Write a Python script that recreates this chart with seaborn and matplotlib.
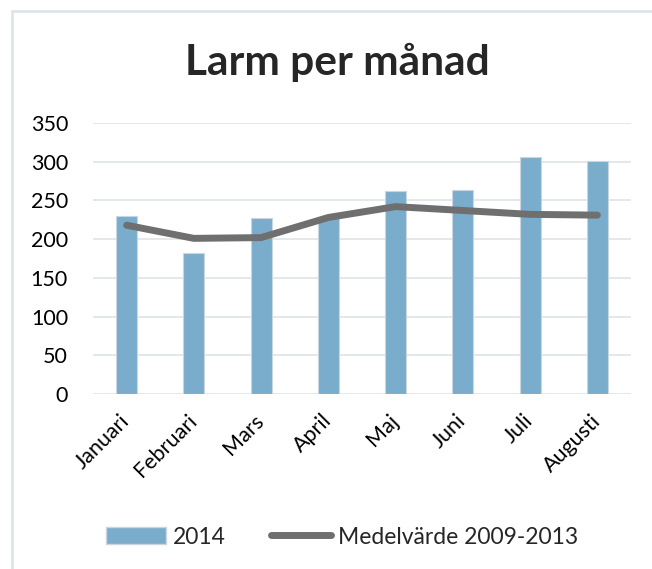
import numpy as np
import pandas as pd
import seaborn as sns
import matplotlib.pyplot as plt
from matplotlib.patches import Rectangle, Patch
from matplotlib.lines import Line2D

months = ['Januari', 'Februari', 'Mars', 'April', 'Maj', 'Juni', 'Juli', 'Augusti']
alarms_2014 = [230, 182, 227, 229, 262, 264, 306, 301]
mean_2009_2013 = [218, 201, 202, 228, 242, 237, 232, 231]

bar_col = '#7AADCB'
line_col = '#706F6F'

sns.set_theme(style='white')
plt.rcParams['font.family'] = ['Lato', 'DejaVu Sans']

df = pd.DataFrame({'month': months, 'y2014': alarms_2014, 'mean': mean_2009_2013})

fig = plt.figure(figsize=(6.52, 5.69), dpi=100)
# chart frame: only top and left edges are visible in the crop
fig.patches.append(Rectangle((12/652, -0.05), 1.0, 1 - 11/569 + 0.05, transform=fig.transFigure,
                             fill=False, edgecolor='#DDE2E8', linewidth=1.8))
ax = fig.add_axes([93/652, 1 - 394/569, 538/652, 271/569])

sns.barplot(data=df, x='month', y='y2014', color=bar_col, width=0.31,
            saturation=1, edgecolor='#C9D6E0', linewidth=0.8, ax=ax, zorder=2)
sns.lineplot(data=df, x='month', y='mean', color=line_col, linewidth=5,
             sort=False, solid_capstyle='round', ax=ax, zorder=3)

ax.set_ylim(0, 350)
ax.set_xlim(-0.5, 7.5)
ax.set_yticks(range(0, 351, 50))
ax.yaxis.grid(True, color='#E1E6EC', linewidth=1.3)
ax.set_axisbelow(True)
for s in ax.spines.values():
    s.set_visible(False)
ax.set_xlabel('')
ax.set_ylabel('')
ax.tick_params(axis='y', labelsize=15.5, pad=18, length=0, labelcolor='black')
ax.tick_params(axis='x', labelsize=15.5, length=0, pad=17, labelcolor='black')
plt.setp(ax.get_xticklabels(), rotation=45, ha='right', va='center', rotation_mode='anchor')

fig.text(337/652, 1 - 62/569, 'Larm per månad', ha='center', va='center',
         fontsize=30.5, fontweight='bold')

handles = [Patch(facecolor=bar_col, edgecolor='#C9D6E0'),
           Line2D([0], [0], color=line_col, linewidth=5, solid_capstyle='round')]
fig.legend(handles, ['2014', 'Medelvärde 2009-2013'], loc='center',
           bbox_to_anchor=(342/652, 1 - 537/569), ncol=2, frameon=False,
           fontsize=16.5, handlelength=2.6, handleheight=0.8, columnspacing=2.0,
           handletextpad=0.3)

fig.savefig('out.png', dpi=100)
